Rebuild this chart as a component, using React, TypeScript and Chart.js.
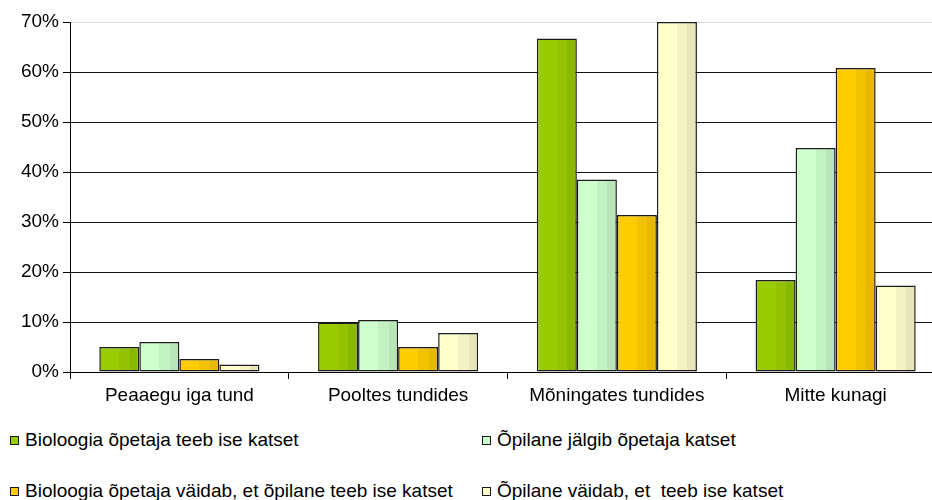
import React, { useEffect, useRef } from "react";
import { Chart, registerables } from "chart.js";

Chart.register(...registerables);

const categories = ["Peaaegu iga tund", "Pooltes tundides", "Mõningates tundides", "Mitte kunagi"];
const seriesLabels = [
  "Bioloogia õpetaja teeb ise katset",
  "Õpilane jälgib õpetaja katset",
  "Bioloogia õpetaja väidab, et õpilane teeb ise katset",
  "Õpilane väidab, et  teeb ise katset",
];
const teacherDoes = [5.0, 9.9, 66.7, 18.4];
const studentWatches = [6.0, 10.4, 38.5, 44.8];
const teacherSaysStudent = [2.6, 5.0, 31.4, 60.8];
const studentSays = [1.5, 7.8, 70.0, 17.3];
const yTicks = [0, 10, 20, 30, 40, 50, 60, 70];

const bands = [
  ["#99cc00", "#92c200", "#89b800"],
  ["#ccffcc", "#c2f2c2", "#b8e6b8"],
  ["#ffcc00", "#f2c200", "#e6b800"],
  ["#ffffcc", "#f2f2c2", "#e6e6b8"],
];

const CAT_PCT = 0.732;
const FONT = "'Liberation Sans', Arial, sans-serif";
const FS = 19;

export default function App() {
  const ref = useRef<HTMLCanvasElement | null>(null);
  useEffect(() => {
    if (!ref.current) return;
    const values = [teacherDoes, studentWatches, teacherSaysStudent, studentSays];
    const n = values.length;
    const makeBg = (di: number) => (ctx: any) => {
      const chart = ctx.chart;
      const xs = chart.scales && chart.scales.x;
      const c = bands[di];
      if (!xs || ctx.type !== "data" || ctx.dataIndex === undefined) return c[0];
      const center = xs.getPixelForValue(ctx.dataIndex);
      const catW = xs.width / categories.length;
      const barW = (catW * CAT_PCT) / n;
      const left = center - (catW * CAT_PCT) / 2 + di * barW;
      if (!isFinite(left) || !isFinite(barW) || barW <= 0) return c[0];
      const g = chart.ctx.createLinearGradient(left, 0, left + barW, 0);
      g.addColorStop(0, c[0]);
      g.addColorStop(0.5, c[0]);
      g.addColorStop(0.5, c[1]);
      g.addColorStop(0.76, c[1]);
      g.addColorStop(0.76, c[2]);
      g.addColorStop(1, c[2]);
      return g;
    };
    const chart = new Chart(ref.current, {
      type: "bar",
      data: {
        labels: categories,
        datasets: values.map((v, i) => ({
          label: seriesLabels[i],
          data: v,
          backgroundColor: makeBg(i),
          borderColor: "#1c1c1c",
          borderWidth: 1.5,
          borderSkipped: false,
          barPercentage: 1,
          categoryPercentage: CAT_PCT,
        })),
      },
      options: {
        animation: false,
        responsive: false,
        maintainAspectRatio: false,
        layout: { padding: { top: 22, left: 0, right: 0, bottom: 0 } },
        plugins: { legend: { display: false }, tooltip: { enabled: false } },
        scales: {
          x: {
            offset: true,
            grid: {
              offset: true,
              drawOnChartArea: false,
              drawTicks: true,
              tickLength: 7,
              color: "#000",
            },
            border: { display: true, color: "#000" },
            ticks: { color: "#000", font: { family: FONT, size: FS }, padding: 5, maxRotation: 0, autoSkip: false },
            afterFit: (s: any) => {
              s.height = 38;
            },
          },
          y: {
            min: 0,
            max: 70,
            afterBuildTicks: (s: any) => {
              s.ticks = yTicks.map((v) => ({ value: v }));
            },
            grid: {
              color: (c: any) => (c.tick && c.tick.value === 70 ? "#dcdcdc" : "#111"),
              tickColor: "#000",
              tickLength: 7,
            },
            border: { display: true, color: "#000" },
            ticks: {
              color: "#000",
              font: { family: FONT, size: FS },
              padding: 4,
              callback: (v: any) => v + "%",
            },
            afterFit: (s: any) => {
              s.width = 70;
            },
          },
        },
      },
    });
    chart.update();
    return () => chart.destroy();
  }, []);

  const legendPos = [
    { left: 10, top: 429 },
    { left: 482, top: 429 },
    { left: 10, top: 480 },
    { left: 482, top: 480 },
  ];

  return (
    <div style={{ position: "absolute", left: 0, top: 0, width: 932, height: 500, overflow: "hidden", background: "#fff" }}>
      <canvas ref={ref} width={945} height={410} style={{ display: "block" }} />
      {seriesLabels.map((l, i) => (
        <div
          key={i}
          style={{
            position: "absolute",
            left: legendPos[i].left,
            top: legendPos[i].top,
            display: "flex",
            alignItems: "center",
            fontFamily: FONT,
            fontSize: FS,
            color: "#000",
            whiteSpace: "pre",
            lineHeight: "22px",
          }}
        >
          <span
            style={{
              display: "inline-block",
              boxSizing: "border-box",
              width: 9,
              height: 9,
              border: "1px solid #1a1a1a",
              background: bands[i][0],
              marginRight: 6,
            }}
          />
          {l}
        </div>
      ))}
    </div>
  );
}
